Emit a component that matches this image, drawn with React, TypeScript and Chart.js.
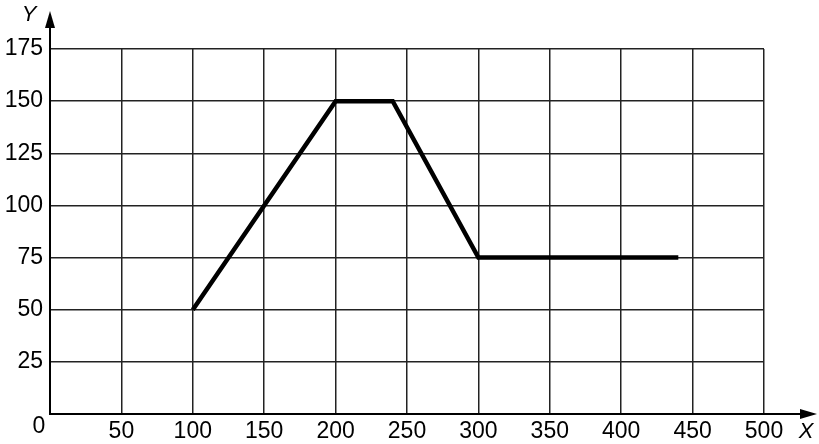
import React, { useEffect, useRef } from "react";
import { Chart, registerables } from "chart.js";

Chart.register(...registerables);

const xValues = [100, 200, 240, 300, 440];
const yValues = [50, 150, 150, 75, 75];
const xTicks = [0, 50, 100, 150, 200, 250, 300, 350, 400, 450, 500];
const yTicks = [0, 25, 50, 75, 100, 125, 150, 175];
const xAxisLabel = "X";
const yAxisLabel = "Y";
const originLabel = "0";

const FONT = "Liberation Sans, Arial, sans-serif";

const axesPlugin = {
  id: "axesArrows",
  afterDraw(chart: any) {
    const ctx = chart.ctx;
    const xs = chart.scales.x;
    const ys = chart.scales.y;
    const x0 = xs.getPixelForValue(0);
    const y0 = ys.getPixelForValue(0);
    ctx.save();
    ctx.strokeStyle = "#000";
    ctx.fillStyle = "#000";
    ctx.lineWidth = 2;
    // y axis
    ctx.beginPath();
    ctx.moveTo(x0, y0 + 1);
    ctx.lineTo(x0, 20);
    ctx.stroke();
    ctx.beginPath();
    ctx.moveTo(x0, 11);
    ctx.lineTo(x0 - 5, 28);
    ctx.lineTo(x0 + 5, 28);
    ctx.closePath();
    ctx.fill();
    // x axis
    ctx.beginPath();
    ctx.moveTo(x0 - 1, y0);
    ctx.lineTo(808, y0);
    ctx.stroke();
    ctx.beginPath();
    ctx.moveTo(817, y0);
    ctx.lineTo(800, y0 - 5);
    ctx.lineTo(800, y0 + 5);
    ctx.closePath();
    ctx.fill();
    // labels
    ctx.font = "italic 22px " + FONT;
    ctx.textAlign = "center";
    ctx.textBaseline = "middle";
    ctx.fillText(yAxisLabel, 29, 15);
    ctx.fillText(xAxisLabel, 806, 432);
    ctx.font = "23px " + FONT;
    ctx.fillText(originLabel, 39, 427);
    ctx.restore();
  },
};

export default function App() {
  const ref = useRef<HTMLCanvasElement>(null);
  useEffect(() => {
    if (!ref.current) return;
    const chart = new Chart(ref.current, {
      type: "scatter",
      data: {
        datasets: [
          {
            data: xValues.map((x, i) => ({ x, y: yValues[i] })),
            showLine: true,
            borderColor: "#000",
            borderWidth: 4.5,
            pointRadius: 0,
            borderJoinStyle: "miter",
            borderCapStyle: "butt",
            tension: 0,
          },
        ],
      },
      options: {
        responsive: false,
        animation: false,
        devicePixelRatio: 1,
        layout: { padding: { top: 49, right: 55, left: 0, bottom: 0 } },
        plugins: { legend: { display: false }, tooltip: { enabled: false } },
        scales: {
          x: {
            type: "linear",
            min: 0,
            max: 500,
            afterFit: (s: any) => {
              s.height = 30;
            },
            afterBuildTicks: (s: any) => {
              s.ticks = xTicks.map((v) => ({ value: v }));
            },
            border: { display: false },
            grid: { color: "#222", lineWidth: 1.5, drawTicks: false },
            ticks: {
              padding: 4,
              color: "#000",
              font: { family: FONT, size: 23 },
              callback: (v: any) => (v === 0 ? "" : String(v)),
              maxRotation: 0,
              autoSkip: false,
            },
          },
          y: {
            type: "linear",
            min: 0,
            max: 175,
            afterFit: (s: any) => {
              s.width = 50;
            },
            afterBuildTicks: (s: any) => {
              s.ticks = yTicks.map((v) => ({ value: v }));
            },
            border: { display: false },
            grid: { color: "#222", lineWidth: 1.5, drawTicks: false },
            ticks: {
              padding: 7,
              color: "#000",
              font: { family: FONT, size: 23 },
              callback: (v: any) => (v === 0 ? "" : String(v)),
              autoSkip: false,
            },
          },
        },
      },
      plugins: [axesPlugin],
    });
    return () => chart.destroy();
  }, []);
  return (
    <div style={{ position: "absolute", left: 0, top: 0, width: 819, height: 444, background: "#fff" }}>
      <canvas ref={ref} width={819} height={444} style={{ display: "block" }} />
    </div>
  );
}
